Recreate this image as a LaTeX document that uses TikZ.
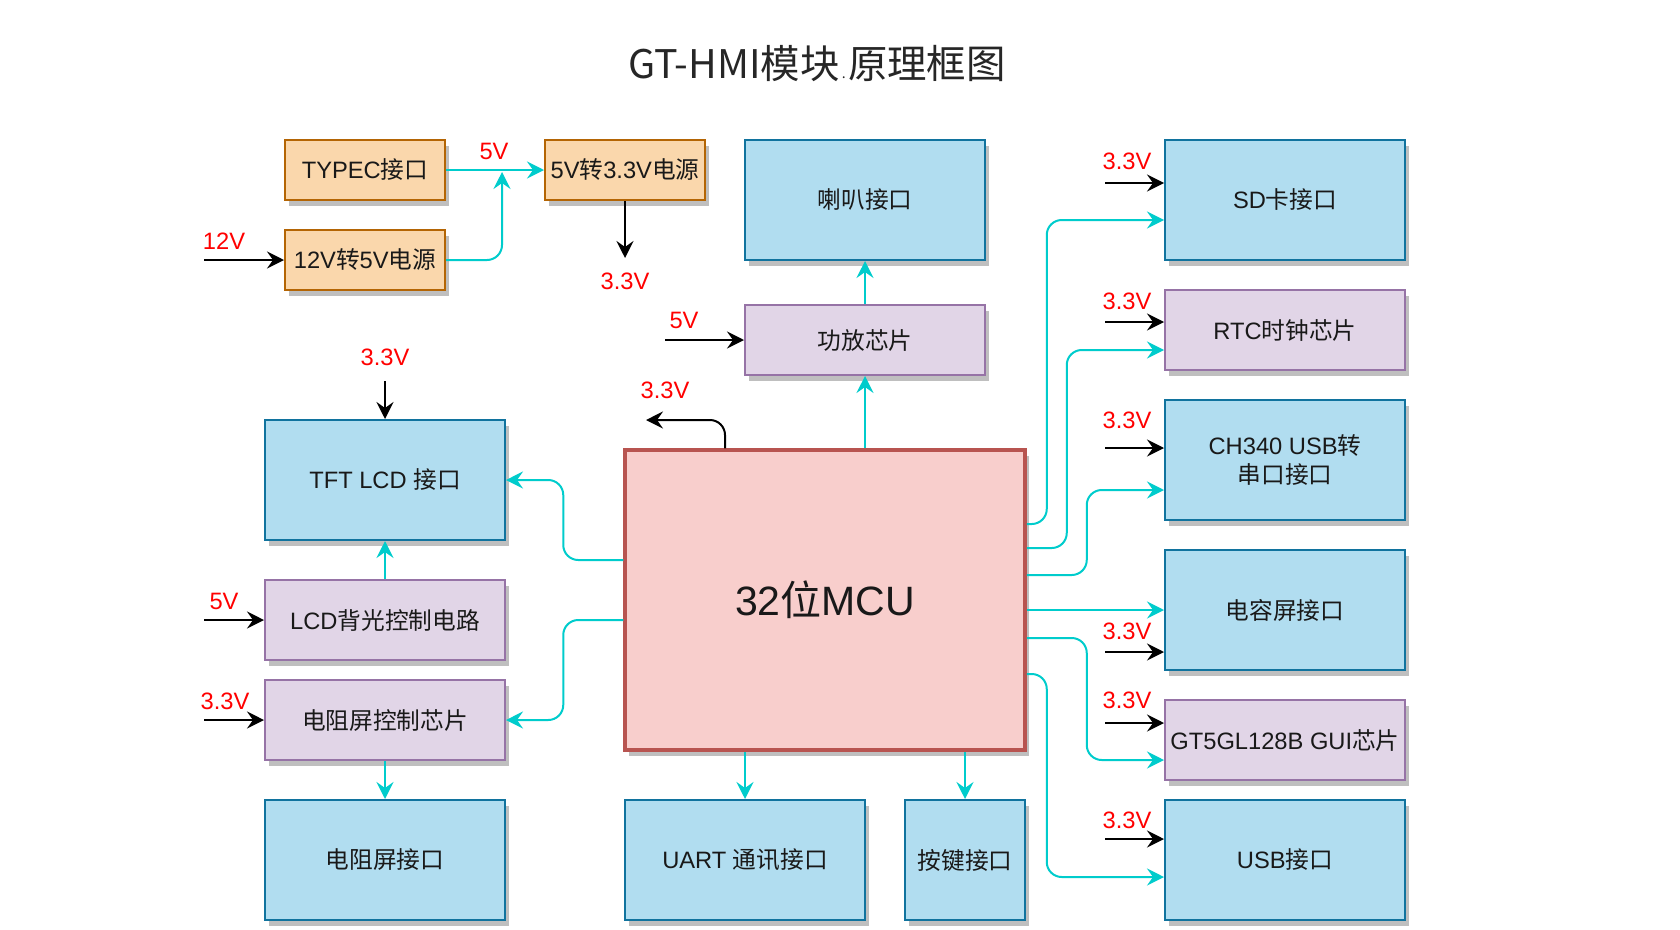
\documentclass[tikz,border=0pt]{standalone}
\usepackage{fontspec}
\setmainfont{Liberation Sans}
\newfontfamily\zhfont{Noto Sans CJK SC}
\usetikzlibrary{arrows.meta,shadows}
\definecolor{boxblue}{HTML}{B1DDF0}
\definecolor{lineblue}{HTML}{10739E}
\definecolor{boxpurple}{HTML}{E1D5E7}
\definecolor{linepurple}{HTML}{9673A6}
\definecolor{boxorange}{HTML}{FAD7AC}
\definecolor{lineorange}{HTML}{B46504}
\definecolor{boxred}{HTML}{F8CECC}
\definecolor{linered}{HTML}{B85450}
\definecolor{linkcyan}{HTML}{00CCCC}
\newcommand\zh[1]{{\zhfont #1}}
\newcommand\boxfont{\fontsize{23.7}{28.5}\selectfont}
\tikzset{
  blk/.style={draw, line width=2pt, inner sep=0pt, align=center, text=black!90, font=\boxfont,
    drop shadow={shadow xshift=4pt, shadow yshift=-6pt, fill=black!25, opacity=1}},
  bluebox/.style={blk, fill=boxblue, draw=lineblue, minimum width=240pt, minimum height=120pt},
  purplebox/.style={blk, fill=boxpurple, draw=linepurple, minimum width=240pt, minimum height=80pt},
  orangebox/.style={blk, fill=boxorange, draw=lineorange, minimum width=160pt, minimum height=60pt},
  link/.style={draw=linkcyan, line width=2pt, rounded corners=15pt, -{Stealth[length=17pt,width=17pt,inset=6pt]}},
  pwr/.style={draw=black, line width=2pt, rounded corners=15pt, -{Stealth[length=17pt,width=17pt,inset=6pt]}},
  volt/.style={text=red, font=\boxfont, inner sep=0pt}
}
\begin{document}
\begin{tikzpicture}[x=1pt, y=-1pt]
\useasboundingbox[fill=white] (0,0) rectangle (1680,929);
\node[text=black!85, font=\zhfont\fontsize{39.4}{46}\selectfont] (title) at (817,64) {GT-HMI模块{\fontsize{14}{14}\selectfont\,.\,}原理框图};

\node[orangebox] (typec) at (365,170) {TYPEC\zh{接口}};
\node[orangebox] (p12) at (365,260) {12V\zh{转}5V\zh{电源}};
\node[orangebox] (p33) at (625,170) {5V\zh{转}3.3V\zh{电源}};
\node[bluebox] (spk) at (865,200) {\zh{喇叭接口}};
\node[purplebox, minimum height=70pt] (amp) at (865,340) {\zh{功放芯片}};
\node[bluebox] (tft) at (385,480) {TFT LCD \zh{接口}};
\node[purplebox] (bl) at (385,620) {LCD\zh{背光控制电路}};
\node[purplebox] (rctl) at (385,720) {\zh{电阻屏控制芯片}};
\node[bluebox] (rscr) at (385,860) {\zh{电阻屏接口}};
\node[blk, fill=boxred, draw=linered, line width=3.5pt, minimum width=400pt, minimum height=300pt,
  font=\fontsize{41}{48}\selectfont] (mcu) at (825,600) {32\zh{位}MCU};
\node[bluebox] (uart) at (745,860) {UART \zh{通讯接口}};
\node[bluebox, minimum width=120pt] (key) at (965,860) {\zh{按键接口}};
\node[bluebox] (sd) at (1285,200) {SD\zh{卡接口}};
\node[purplebox] (rtc) at (1285,330) {RTC\zh{时钟芯片}};
\node[bluebox] (ch340) at (1285,460) {CH340 USB\zh{转}\\\zh{串口接口}};
\node[bluebox] (cap) at (1285,610) {\zh{电容屏接口}};
\node[purplebox] (gt5) at (1285,740) {GT5GL128B GUI\zh{芯片}};
\node[bluebox] (usb) at (1285,860) {USB\zh{接口}};

\coordinate (in12) at (204,260);
\coordinate (j5v) at (502,172);
\coordinate (o33) at (625,258);
\coordinate (ampin) at (665,340);
\coordinate (mcuout) at (646,420);
\coordinate (tftin) at (385,381);
\coordinate (blin) at (204,620);
\coordinate (rctlin) at (204,720);
\coordinate (sdin) at (1105,183);
\coordinate (rtcin) at (1105,322);
\coordinate (chin) at (1105,448);
\coordinate (capin) at (1105,652);
\coordinate (gtin) at (1105,723);
\coordinate (usbin) at (1105,839);

\draw[pwr] (in12) -- (p12.west);
\node[volt] at (224,241) {12V};
\draw[link] (typec.east) -- (p33.west);
\node[volt] at (494,151) {5V};
\draw[link] (p12.east) -| (j5v);
\draw[pwr] (p33.south) -- (o33);
\node[volt] at (625,281) {3.3V};

\draw[pwr] (ampin) -- (amp.west);
\node[volt] at (684,320) {5V};
\draw[link] (amp.north) -- (spk.south);
\draw[link] (amp.south |- mcu.north) -- (amp.south);
\draw[pwr] ([xshift=-100pt]mcu.north) |- (mcuout);
\node[volt] at (665,390) {3.3V};

\draw[pwr] (tftin) -- (tft.north);
\node[volt] at (385,357) {3.3V};
\draw[link] (bl.north) -- (tft.south);
\draw[pwr] (blin) -- (bl.west);
\node[volt] at (224,601) {5V};
\draw[pwr] (rctlin) -- (rctl.west);
\node[volt] at (225,701) {3.3V};
\draw[link] (rctl.south) -- (rscr.north);
\draw[link] ([yshift=40pt]mcu.west) -- ++(-60,0) |- (tft.east);
\draw[link] ([yshift=-20pt]mcu.west) -- ++(-60,0) |- (rctl.east);

\draw[link] (uart.north |- mcu.south) -- (uart.north);
\draw[link] (key.north |- mcu.south) -- (key.north);

\draw[pwr] (sdin) -- (sdin -| sd.west);
\node[volt] at (1127,161) {3.3V};
\draw[pwr] (rtcin) -- (rtcin -| rtc.west);
\node[volt] at (1127,301) {3.3V};
\draw[pwr] (chin) -- (chin -| ch340.west);
\node[volt] at (1127,420) {3.3V};
\draw[pwr] (capin) -- (capin -| cap.west);
\node[volt] at (1127,631) {3.3V};
\draw[pwr] (gtin) -- (gtin -| gt5.west);
\node[volt] at (1127,700) {3.3V};
\draw[pwr] (usbin) -- (usbin -| usb.west);
\node[volt] at (1127,820) {3.3V};

\draw[link] ([yshift=76pt]mcu.east) -- ++(20,0) |- ([yshift=-20pt]sd.west);
\draw[link] ([yshift=52pt]mcu.east) -- ++(40,0) |- ([yshift=-20pt]rtc.west);
\draw[link] ([yshift=25pt]mcu.east) -- ++(60,0) |- ([yshift=-30pt]ch340.west);
\draw[link] (mcu.east |- cap.west) -- (cap.west);
\draw[link] ([yshift=-38pt]mcu.east) -- ++(60,0) |- ([yshift=-20pt]gt5.west);
\draw[link] ([yshift=-74pt]mcu.east) -- ++(20,0) |- ([yshift=-17pt]usb.west);
\end{tikzpicture}
\end{document}
